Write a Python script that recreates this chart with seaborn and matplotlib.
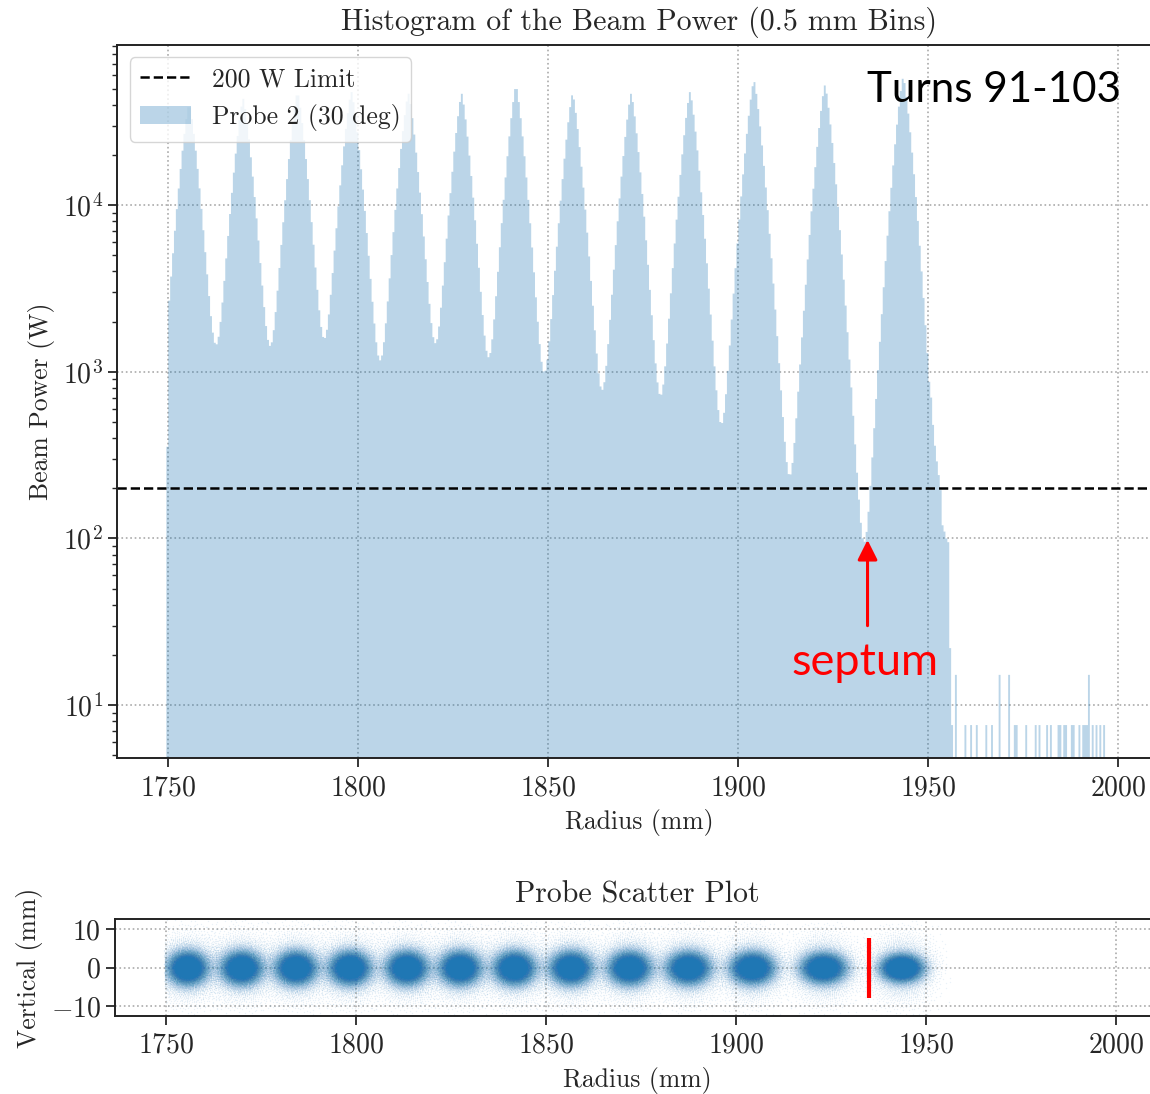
import numpy as np
import pandas as pd
import matplotlib
matplotlib.use("Agg")
import matplotlib.pyplot as plt
import seaborn as sns
from matplotlib.lines import Line2D
from matplotlib.patches import Patch

turn_radius = [1755.5, 1769.7, 1784.0, 1798.2, 1813.2, 1827.2, 1841.5,
               1856.4, 1871.8, 1887.3, 1904.1, 1922.8, 1943.4]
turn_peak_power = [40700, 43600, 47900, 47900, 46800, 46800, 52500,
                   46800, 46800, 47900, 56200, 52500, 58900]
# log10 fall-off of each turn (per mm^1.3), matched to the valley depths
turn_falloff = [0.137, 0.139, 0.141, 0.138, 0.140, 0.147, 0.149,
                0.145, 0.148, 0.148, 0.145, 0.146, 0.150]
# core size of each turn in the probe scatter (mm): radial, vertical rms
turn_width = [2.7, 2.8, 2.8, 2.8, 2.8, 2.8, 2.8,
              2.9, 2.9, 3.0, 3.0, 3.1, 2.9]
turn_height = [2.25, 2.25, 2.25, 2.25, 2.25, 2.25, 2.25,
               2.25, 2.25, 2.2, 2.15, 2.05, 1.85]

# edge bins (bin left edge, W)
first_bin_radius = 1749.5
first_bin_power = 355
tail_radius = [1950.5, 1951.0, 1951.5, 1952.0, 1952.5, 1953.0,
               1953.5, 1954.0, 1954.5, 1955.0, 1955.5, 1956.0]
tail_power = [700, 480, 360, 290, 240, 195, 120, 110, 100, 95, 22, 7.6]
sparse_radius = [1957.0, 1959.5, 1961.0, 1962.5, 1965.0, 1966.5, 1968.5,
                 1971.0, 1972.5, 1973.0, 1975.5, 1978.0, 1979.0, 1981.0,
                 1982.0, 1984.0, 1984.5, 1985.5, 1986.0, 1987.5, 1988.0,
                 1989.5, 1990.5, 1991.0, 1991.5, 1992.0, 1993.0, 1994.0,
                 1995.0, 1996.0]
sparse_power = [15.2, 7.6, 7.6, 7.6, 7.6, 7.6, 15.2,
                15.2, 7.6, 7.6, 7.6, 7.6, 7.6, 7.6,
                7.6, 7.6, 7.6, 7.6, 7.6, 7.6, 7.6,
                7.6, 7.6, 7.6, 7.6, 15.2, 7.6, 7.6,
                7.6, 7.6]

power_limit = 200
septum_radius = 1934.0
xticks = [1750, 1800, 1850, 1900, 1950, 2000]

sns.set_style("ticks")
plt.rcParams.update({
    "font.family": "serif",
    "font.serif": ["cmr10"],
    "mathtext.fontset": "cm",
    "axes.formatter.use_mathtext": True,
    "font.size": 18.5,
    "axes.titlesize": 21.5,
    "axes.titlepad": 10.5,
    "axes.labelsize": 18.5,
    "axes.labelpad": 5.5,
    "xtick.labelsize": 20,
    "ytick.labelsize": 20,
    "xtick.major.pad": 5.5,
    "legend.fontsize": 18.5,
    "axes.linewidth": 1.4,
    "axes.edgecolor": "#222222",
})

# --- histogram bins (0.5 mm)
left = np.arange(1749.5, 1997.9, 0.5)
centre = left + 0.25
power = np.zeros_like(centre)
body = (left >= 1750.0) & (left < tail_radius[0])
for r, h, k in zip(turn_radius, turn_peak_power, turn_falloff):
    power[body] += h * 10 ** (-k * np.abs(centre[body] - r) ** 1.3)
power[np.isclose(left, first_bin_radius)] = first_bin_power
for r, p in zip(tail_radius + sparse_radius, tail_power + sparse_power):
    power[np.isclose(left, r)] = p
hist_df = pd.DataFrame({"radius": centre, "power": power})

# --- probe scatter points: deterministic (low-discrepancy) fill of each
# turn, a dense core plus a faint wide halo
def fill_turn(r, wx, wy, n, start):
    i = np.arange(start, start + n)
    u = (0.5 + i * 0.7548776662466927) % 1
    v = (0.5 + i * 0.5698402909980532) % 1
    rho = np.sqrt(-2 * np.log(1 - u))
    x = r + wx * rho * np.cos(2 * np.pi * v)
    y = wy * rho * np.sin(2 * np.pi * v)
    return x, y

sx, sy = [], []
for t, (r, wx, wy) in enumerate(zip(turn_radius, turn_width, turn_height)):
    for n, fx, fy, off in [(18000, wx, wy, 0), (3500, 4.3, 4.3, 7_000_000)]:
        x, y = fill_turn(r, fx, fy, n, off + t * 40000)
        keep = (x > 1749.5) & (x < 1956.5)
        sx.append(x[keep])
        sy.append(y[keep])
scatter_df = pd.DataFrame({"radius": np.concatenate(sx),
                           "vertical": np.concatenate(sy)})

fig = plt.figure(figsize=(11.5, 10.94), dpi=100)
ax1 = fig.add_axes([0.1017, 0.3071, 0.9078, 0.6522])
ax2 = fig.add_axes([0.1000, 0.0713, 0.9078, 0.0884])

sns.histplot(data=hist_df, x="radius", weights="power", binwidth=0.5,
             binrange=(1749.5, 1998.0), element="step", fill=True,
             color="tab:blue", alpha=0.3, linewidth=0, ax=ax1)
ax1.set_yscale("log")
ax1.axhline(power_limit, color="black", ls="--", lw=1.8)
ax1.set_xlim(1736.5, 2011.2)
ax1.set_ylim(4.82, 9.18e4)
ax1.set_xticks(xticks)
ax1.set_title("Histogram of the Beam Power (0.5 mm Bins)")
ax1.set_xlabel("Radius (mm)")
ax1.set_ylabel("Beam Power (W)")
ax1.grid(True, which="major", ls=":", color="#aaaaaa", lw=1.2)
ax1.tick_params(which="major", direction="out", length=6.5, width=1.3)
ax1.tick_params(which="minor", direction="out", length=3.5, width=1.0)
handles = [Line2D([], [], color="black", ls="--", lw=1.8),
           Patch(facecolor="tab:blue", alpha=0.3, lw=0)]
ax1.legend(handles, ["200 W Limit", "Probe 2 (30 deg)"], loc="upper left")

ax1.annotate("", xy=(septum_radius, 98), xytext=(septum_radius, 30),
             arrowprops=dict(arrowstyle="-|>", color="red", lw=2.2,
                             mutation_scale=30, shrinkA=0, shrinkB=0))
ax1.text(septum_radius - 0.6, 15.1, "septum", color="red", ha="center",
         va="baseline", fontsize=32.5, family=["Lato", "DejaVu Sans"])
fig.text(0.8643, 1 - 102 / 1094, "Turns 91-103", color="black", ha="center",
         va="baseline", fontsize=30.3, family=["Lato", "DejaVu Sans"])

sns.scatterplot(data=scatter_df, x="radius", y="vertical", s=1, alpha=0.09,
                linewidth=0, color="tab:blue", ax=ax2)
ax2.vlines(septum_radius + 0.8, -7.8, 7.8, color="red", lw=3)
ax2.set_xlim(1736.5, 2011.2)
ax2.set_ylim(-12.6, 12.6)
ax2.set_xticks(xticks)
ax2.set_yticks([-10, 0, 10])
ax2.set_title("Probe Scatter Plot", pad=12)
ax2.set_xlabel("Radius (mm)")
ax2.set_ylabel("Vertical (mm)")
ax2.grid(True, ls=":", color="#aaaaaa", lw=1.2)
ax2.tick_params(which="major", direction="out", length=6.5, width=1.3)

fig.savefig("out.png", dpi=100)
